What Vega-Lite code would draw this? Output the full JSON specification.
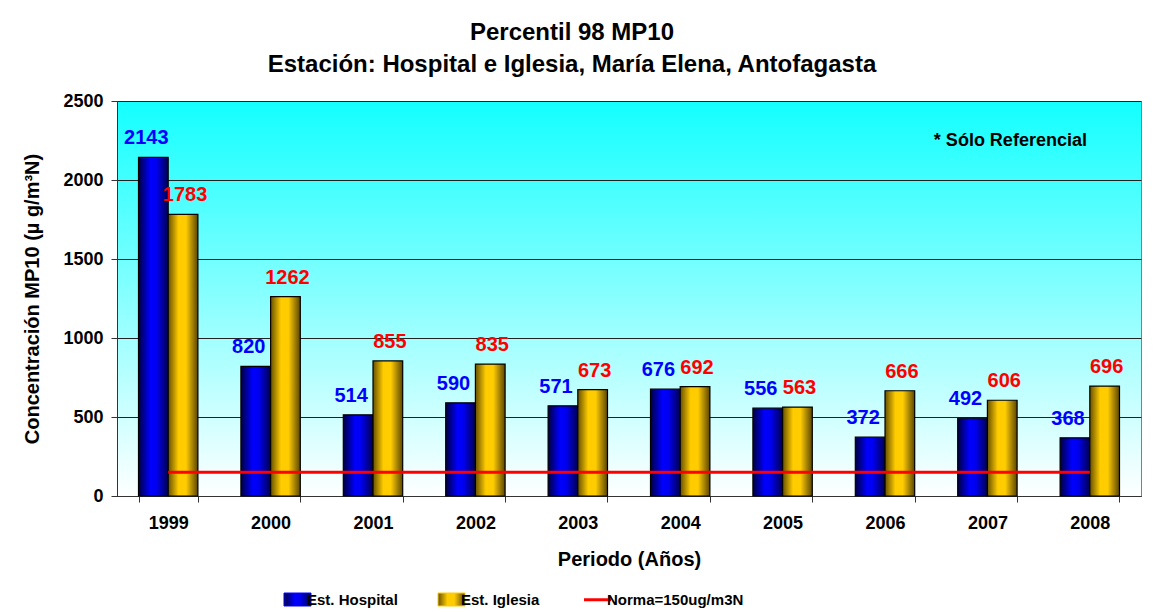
{
  "$schema": "https://vega.github.io/schema/vega-lite/v6.json",
  "width": 1024,
  "height": 395,
  "autosize": "none",
  "padding": {"left": 117, "top": 101, "right": 20, "bottom": 116},
  "background": "#ffffff",
  "title": {
    "text": ["Percentil 98 MP10", "Estación: Hospital e Iglesia, María Elena, Antofagasta"],
    "font": "Liberation Sans",
    "fontSize": 24,
    "fontWeight": "bold",
    "lineHeight": 32,
    "anchor": "middle",
    "dx": -57,
    "offset": 15,
    "color": "#000000"
  },
  "config": {
    "font": "Liberation Sans",
    "view": {
      "stroke": "#808080",
      "strokeWidth": 1,
      "fill": {"gradient": "linear", "x1": 0, "y1": 0, "x2": 0, "y2": 1,
        "stops": [{"offset": 0, "color": "#14ffff"}, {"offset": 1, "color": "#ffffff"}]}
    },
    "axis": {
      "labelFont": "Liberation Sans",
      "labelFontSize": 18,
      "labelFontWeight": "bold",
      "labelColor": "#000000",
      "titleFont": "Liberation Sans",
      "titleFontSize": 20,
      "titleFontWeight": "bold",
      "titleColor": "#000000",
      "domainColor": "#333333",
      "tickColor": "#333333",
      "tickSize": 6
    }
  },
  "data": {
    "values": [
      {"year": "1999", "serie": "Est. Hospital", "value": 2143},
      {"year": "2000", "serie": "Est. Hospital", "value": 820},
      {"year": "2001", "serie": "Est. Hospital", "value": 514},
      {"year": "2002", "serie": "Est. Hospital", "value": 590},
      {"year": "2003", "serie": "Est. Hospital", "value": 571},
      {"year": "2004", "serie": "Est. Hospital", "value": 676},
      {"year": "2005", "serie": "Est. Hospital", "value": 556},
      {"year": "2006", "serie": "Est. Hospital", "value": 372},
      {"year": "2007", "serie": "Est. Hospital", "value": 492},
      {"year": "2008", "serie": "Est. Hospital", "value": 368},
      {"year": "1999", "serie": "Est. Iglesia", "value": 1783},
      {"year": "2000", "serie": "Est. Iglesia", "value": 1262},
      {"year": "2001", "serie": "Est. Iglesia", "value": 855},
      {"year": "2002", "serie": "Est. Iglesia", "value": 835},
      {"year": "2003", "serie": "Est. Iglesia", "value": 673},
      {"year": "2004", "serie": "Est. Iglesia", "value": 692},
      {"year": "2005", "serie": "Est. Iglesia", "value": 563},
      {"year": "2006", "serie": "Est. Iglesia", "value": 666},
      {"year": "2007", "serie": "Est. Iglesia", "value": 606},
      {"year": "2008", "serie": "Est. Iglesia", "value": 696}
    ]
  },
  "encoding": {
    "x": {
      "field": "year", "type": "nominal",
      "scale": {"paddingInner": 0.42, "paddingOuter": 0.21},
      "axis": {"title": "Periodo (Años)", "labelAngle": 0, "tickBand": "extent", "labelPadding": 12, "titlePadding": 17, "grid": false}
    },
    "y": {
      "field": "value", "type": "quantitative",
      "scale": {"domain": [0, 2500], "nice": false},
      "axis": {"title": "Concentración MP10 (µ g/m³N)", "format": "d", "values": [0, 500, 1000, 1500, 2000, 2500], "grid": true, "gridColor": "#222222", "gridWidth": 1, "labelPadding": 8, "titlePadding": 20}
    }
  },
  "layer": [
    {
      "transform": [{"filter": "datum.serie === 'Est. Hospital'"}],
      "mark": {"type": "bar", "stroke": "#000000", "strokeWidth": 1.2,
        "fill": {"gradient": "linear", "x1": 0, "y1": 0, "x2": 1, "y2": 0,
          "stops": [{"offset": 0, "color": "#000040"}, {"offset": 0.4, "color": "#0000ff"}, {"offset": 0.6, "color": "#0000f0"}, {"offset": 1, "color": "#000050"}]}},
      "encoding": {
        "xOffset": {"field": "serie", "type": "nominal", "scale": {"domain": ["Est. Hospital", "Est. Iglesia"], "paddingInner": 0, "paddingOuter": 0}}
      }
    },
    {
      "transform": [{"filter": "datum.serie === 'Est. Iglesia'"}],
      "mark": {"type": "bar", "stroke": "#000000", "strokeWidth": 1.2,
        "fill": {"gradient": "linear", "x1": 0, "y1": 0, "x2": 1, "y2": 0,
          "stops": [{"offset": 0, "color": "#665000"}, {"offset": 0.35, "color": "#ffcc00"}, {"offset": 0.6, "color": "#ffcc00"}, {"offset": 1, "color": "#5a4500"}]}},
      "encoding": {
        "xOffset": {"field": "serie", "type": "nominal"}
      }
    },
    {
      "transform": [{"filter": "datum.serie === 'Est. Hospital'"}],
      "mark": {"type": "text", "color": "#0000ff", "fontSize": 20, "fontWeight": "bold", "baseline": "alphabetic", "dy": -13, "dx": -7},
      "encoding": {
        "xOffset": {"field": "serie", "type": "nominal"},
        "text": {"field": "value", "type": "quantitative"}
      }
    },
    {
      "transform": [{"filter": "datum.serie === 'Est. Iglesia'"}],
      "mark": {"type": "text", "color": "#ff0000", "fontSize": 20, "fontWeight": "bold", "baseline": "alphabetic", "dy": -13, "dx": 2},
      "encoding": {
        "xOffset": {"field": "serie", "type": "nominal"},
        "text": {"field": "value", "type": "quantitative"}
      }
    },
    {
      "data": {"values": [{"year": "1999", "year2": "2008", "value": 150, "serie": "Norma=150ug/m3N"}]},
      "mark": {"type": "rule", "strokeWidth": 3},
      "encoding": {
        "x": {"field": "year", "type": "nominal", "bandPosition": 0.5},
        "x2": {"field": "year2", "bandPosition": 0.5},
        "y": {"field": "value", "type": "quantitative"},
        "color": {
          "field": "serie", "type": "nominal",
          "scale": {"domain": ["Est. Hospital", "Est. Iglesia", "Norma=150ug/m3N"], "range": ["#0000ff", "#ffcc00", "#ff0000"]},
          "legend": {
            "orient": "none",
            "legendX": 173,
            "legendY": 491,
            "direction": "horizontal",
            "title": null,
            "labelFont": "Liberation Sans",
            "labelFontSize": 15,
            "labelFontWeight": "bold",
            "labelColor": "#000000",
            "symbolSize": 729,
            "columnPadding": 38,
            "labelOffset": 2,
            "encode": {
              "symbols": {
                "update": {
                  "shape": {"signal": "datum.value === 'Norma=150ug/m3N' ? 'M-1,0H1' : 'M-1,-0.48H1V0.48H-1Z'"},
                  "fill": {"signal": "datum.value === 'Est. Hospital' ? {gradient: 'linear', x1: 0, y1: 0, x2: 1, y2: 0, stops: [{offset: 0, color: '#000040'}, {offset: 0.4, color: '#0000ff'}, {offset: 0.6, color: '#0000f0'}, {offset: 1, color: '#000050'}]} : datum.value === 'Est. Iglesia' ? {gradient: 'linear', x1: 0, y1: 0, x2: 1, y2: 0, stops: [{offset: 0, color: '#665000'}, {offset: 0.35, color: '#ffcc00'}, {offset: 0.6, color: '#ffcc00'}, {offset: 1, color: '#5a4500'}]} : 'transparent'"},
                  "stroke": {"signal": "datum.value === 'Norma=150ug/m3N' ? '#ff0000' : '#000000'"},
                  "strokeWidth": {"signal": "datum.value === 'Norma=150ug/m3N' ? 3 : 1"},
                  "opacity": {"value": 1}
                }
              }
            }
          }
        }
      }
    },
    {
      "data": {"values": [{"year": "2007", "value": 2250, "note": "* Sólo Referencial"}]},
      "mark": {"type": "text", "fontSize": 18, "fontWeight": "bold", "color": "#000000", "dx": 23, "baseline": "middle"},
      "encoding": {
        "x": {"field": "year", "type": "nominal"},
        "y": {"field": "value", "type": "quantitative"},
        "text": {"field": "note", "type": "nominal"}
      }
    }
  ]
}
